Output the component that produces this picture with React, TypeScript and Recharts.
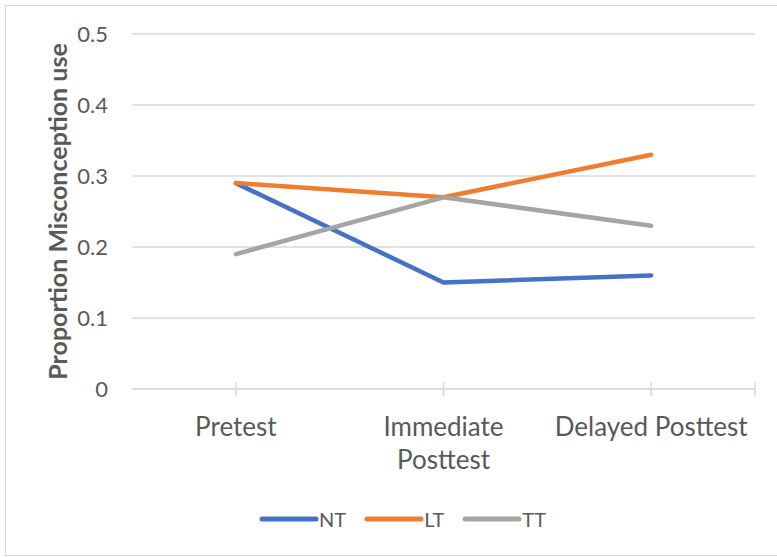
import { LineChart, Line, XAxis, YAxis, CartesianGrid, Legend } from 'recharts'

// --- Data ---

const phases = ['Pretest', 'Immediate Posttest', 'Delayed Posttest']
const ntValues = [0.29, 0.15, 0.16]
const ltValues = [0.29, 0.27, 0.33]
const ttValues = [0.19, 0.27, 0.23]
const yTicks = [0, 0.1, 0.2, 0.3, 0.4, 0.5]

const series = [
  { key: 'NT', values: ntValues, color: '#4472C4' },
  { key: 'LT', values: ltValues, color: '#ED7D31' },
  { key: 'TT', values: ttValues, color: '#A5A5A5' },
]

const chartData = phases.map((phase, i) => {
  const row: Record<string, string | number> = { phase }
  series.forEach(s => {
    row[s.key] = s.values[i]
  })
  return row
})

// --- Layout ---

const WIDTH = 777
const HEIGHT = 557
const PLOT_LEFT = 132
const PLOT_RIGHT = 755
const BAND = (PLOT_RIGHT - PLOT_LEFT) / phases.length
const FONT = 'Lato, "Open Sans", sans-serif'
const TEXT_COLOR = '#595959'
const GRID_COLOR = '#d9d9d9'
const CAT_FONT_SIZE = 26

// Greedy word wrap measured on a canvas
let measureCtx: CanvasRenderingContext2D | null = null
const wrapLabel = (label: string, maxWidth: number): string[] => {
  if (!measureCtx) measureCtx = document.createElement('canvas').getContext('2d')
  if (!measureCtx) return [label]
  measureCtx.font = `${CAT_FONT_SIZE}px ${FONT}`
  const lines: string[] = []
  let current = ''
  label.split(' ').forEach(word => {
    const next = current ? `${current} ${word}` : word
    if (current && measureCtx!.measureText(next).width > maxWidth) {
      lines.push(current)
      current = word
    } else {
      current = next
    }
  })
  if (current) lines.push(current)
  return lines
}

// Excel-style category tick: cross mark at the point, plus a closing mark at the right edge
const CategoryTick = (props: any) => {
  const { x, y, payload, index } = props
  const last = index === phases.length - 1
  const lines = wrapLabel(String(payload.value), 200)
  return (
    <g>
      <line x1={x} x2={x} y1={y - 7} y2={y + 7} stroke={GRID_COLOR} strokeWidth={1.5} />
      {last && (
        <line
          x1={x + BAND / 2}
          x2={x + BAND / 2}
          y1={y - 7}
          y2={y + 7}
          stroke={GRID_COLOR}
          strokeWidth={1.5}
        />
      )}
      <text
        x={x}
        y={y + 47}
        textAnchor="middle"
        fill={TEXT_COLOR}
        style={{ fontFamily: FONT, fontSize: CAT_FONT_SIZE }}
      >
        {lines.map((line, i) => (
          <tspan key={i} x={x} dy={i === 0 ? 0 : 33}>
            {line}
          </tspan>
        ))}
      </text>
    </g>
  )
}

const LegendContent = () => (
  <div
    style={{
      display: 'flex',
      justifyContent: 'center',
      alignItems: 'center',
      height: 28,
      paddingLeft: 28,
      fontFamily: FONT,
      fontSize: 20,
      color: TEXT_COLOR,
    }}
  >
    {series.map((s, i) => (
      <div
        key={s.key}
        style={{ display: 'flex', alignItems: 'center', marginRight: i < series.length - 1 ? 18 : 0 }}
      >
        <svg width={60} height={10}>
          <line x1={3} x2={57} y1={5} y2={5} stroke={s.color} strokeWidth={5} strokeLinecap="round" />
        </svg>
        <span>{s.key}</span>
      </div>
    ))}
  </div>
)

const YLabel = (props: any) => {
  const { viewBox } = props
  const cx = 67
  const cy = viewBox.y + viewBox.height / 2
  return (
    <text
      x={cx}
      y={cy}
      transform={`rotate(-90 ${cx} ${cy})`}
      textAnchor="middle"
      fill={TEXT_COLOR}
      style={{ fontFamily: FONT, fontSize: 25, fontWeight: 700 }}
    >
      Proportion Misconception use
    </text>
  )
}

export default function App() {
  return (
    <div style={{ position: 'absolute', left: 0, top: 0, width: WIDTH, height: HEIGHT, background: '#fff' }}>
      <div
        style={{
          position: 'absolute',
          left: 5,
          top: 5,
          width: WIDTH,
          height: HEIGHT - 6,
          border: `1.5px solid ${GRID_COLOR}`,
          boxSizing: 'border-box',
        }}
      />
      <LineChart
        width={WIDTH}
        height={HEIGHT}
        data={chartData}
        margin={{ top: 34, right: WIDTH - PLOT_RIGHT, left: PLOT_LEFT - 70, bottom: 60 }}
      >
        <CartesianGrid horizontal vertical={false} stroke={GRID_COLOR} strokeWidth={1.5} />
        <XAxis
          dataKey="phase"
          interval={0}
          height={80}
          padding={{ left: BAND / 2, right: BAND / 2 }}
          tickLine={false}
          tickSize={0}
          tickMargin={0}
          axisLine={{ stroke: GRID_COLOR, strokeWidth: 1.5 }}
          tick={<CategoryTick />}
        />
        <YAxis
          width={70}
          domain={[0, 0.5]}
          ticks={yTicks}
          interval={0}
          axisLine={false}
          tickLine={false}
          tickSize={0}
          tickMargin={24}
          tickFormatter={v => String(v)}
          tick={{ fill: TEXT_COLOR, fontSize: 22, fontFamily: FONT }}
          label={<YLabel />}
        />
        <Legend
          content={<LegendContent />}
          wrapperStyle={{ position: 'absolute', top: 505, left: 0, width: WIDTH }}
        />
        {series.map(s => (
          <Line
            key={s.key}
            type="linear"
            dataKey={s.key}
            stroke={s.color}
            strokeWidth={4.5}
            strokeLinecap="round"
            strokeLinejoin="round"
            dot={false}
            activeDot={false}
            isAnimationActive={false}
          />
        ))}
      </LineChart>
    </div>
  )
}
